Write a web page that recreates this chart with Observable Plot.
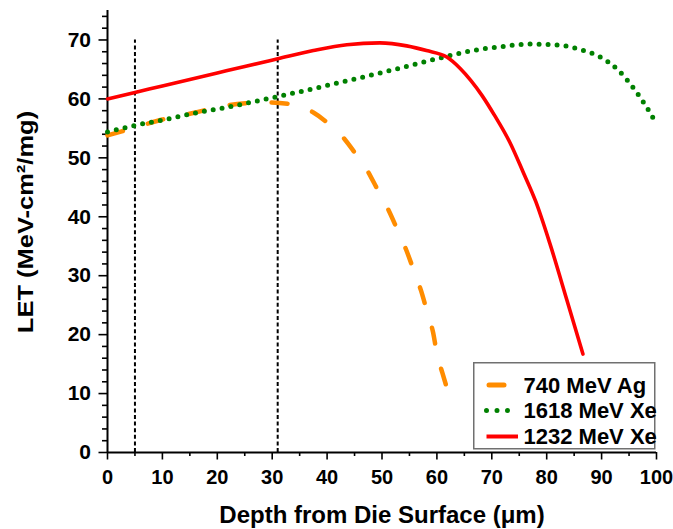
<!DOCTYPE html>
<html>
<head>
<meta charset="utf-8">
<script src="https://cdn.jsdelivr.net/npm/d3@7"></script>
<script src="https://cdn.jsdelivr.net/npm/@observablehq/plot@0.6"></script>
<style>
  html, body { margin: 0; padding: 0; background: #fff; }
  #wrap { position: relative; width: 673px; height: 529px; font-family: "Liberation Sans", Arial, sans-serif; }
  #wrap svg { display: block; }
  #legend { position: absolute; left: 473px; top: 362px; }
</style>
</head>
<body>
<div id="wrap"></div>
<script>
// ---- data ----
const seriesNames = ["740 MeV Ag", "1618 MeV Xe", "1232 MeV Xe"];
const seriesColors = ["#ff8c00", "#008000", "#ff0000"];

const agX = [0, 2.6, 6.2, 10, 15.6, 21.7, 26, 29.4, 33.9, 37.5, 40.5, 42.7, 45.1, 47.1, 49.2, 51, 52.9, 54.4, 55.9, 57.1, 58.3, 59.3, 60, 61, 62.3];
const agY = [53.8, 54.5, 55.5, 56.5, 57.6, 58.9, 59.3, 59.4, 59.0, 57.7, 55.6, 53.7, 50.8, 48.2, 44.6, 41.5, 37.6, 34.4, 30.6, 27.5, 23.6, 20.4, 16.8, 13.5, 9.5];

const xe1618X = [0, 5, 10, 16, 23, 29, 34, 41, 51, 59.5, 66.5, 72, 77, 82.5, 86, 89.6, 93, 96, 98.4, 99.6];
const xe1618Y = [54.4, 55.5, 56.4, 57.6, 58.8, 60.0, 61.0, 62.5, 64.7, 66.7, 68.2, 68.9, 69.3, 69.1, 68.4, 67.2, 64.9, 61.6, 58.3, 56.4];

const xe1232X = [0, 5, 10, 15, 20, 25, 31, 37.5, 43.6, 49.6, 54.5, 58.1, 61.8, 64.2, 66.2, 68.2, 70.5, 73.3, 75.7, 78, 80.6, 83.7, 86.6];
const xe1232Y = [60.0, 61.1, 62.2, 63.3, 64.4, 65.5, 66.8, 68.2, 69.2, 69.5, 69.0, 68.2, 67.1, 65.2, 63.1, 60.6, 57.2, 52.6, 47.6, 42.6, 35.4, 25.8, 16.7];

const markerLinesX = [5, 31];
const markerLineTop = 70;

const xMajorTicks = [0, 10, 20, 30, 40, 50, 60, 70, 80, 90, 100];
const xMinorTicks = [5, 15, 25, 35, 45, 55, 65, 75, 85, 95];
const yMajorTicks = [0, 10, 20, 30, 40, 50, 60, 70];
const yMinorTicks = [2, 4, 6, 8, 12, 14, 16, 18, 22, 24, 26, 28, 32, 34, 36, 38, 42, 44, 46, 48, 52, 54, 56, 58, 62, 64, 66, 68, 72, 74];

const xLabel = "Depth from Die Surface (μm)";
const yLabel = "LET (MeV-cm²/mg)";

// ---- build tables ----
const toRows = (xs, ys) => xs.map((x, i) => ({x, y: ys[i]}));
const agData = toRows(agX, agY);
const xe1618Data = toRows(xe1618X, xe1618Y);
const xe1232Data = toRows(xe1232X, xe1232Y);

const FONT = '"Liberation Sans", Arial, sans-serif';

const chart = Plot.plot({
  width: 673,
  height: 529,
  marginLeft: 107,
  marginRight: 17,
  marginTop: 10,
  marginBottom: 77,
  style: {fontFamily: FONT, fontWeight: "bold", color: "black", background: "white"},
  x: {domain: [0, 100], label: null},
  y: {domain: [0, 75], label: null},
  marks: [
    // minor ticks
    Plot.axisX(xMinorTicks, {tickSize: 4, tickFormat: () => "", label: null, strokeWidth: 1.6}),
    Plot.axisY(yMinorTicks, {tickSize: 5, tickFormat: () => "", label: null, strokeWidth: 1.6}),
    // major ticks
    Plot.axisX(xMajorTicks, {tickSize: 7.5, tickPadding: 10, fontSize: 20, fontWeight: "bold", label: null, strokeWidth: 1.6}),
    Plot.axisY(yMajorTicks, {tickSize: 8.5, tickPadding: 8, fontSize: 21, fontWeight: "bold", label: null, strokeWidth: 1.6}),
    // axis lines
    Plot.ruleY([0], {stroke: "black", strokeWidth: 2}),
    Plot.ruleX([0], {stroke: "black", strokeWidth: 2}),
    // vertical dashed markers
    Plot.ruleX(markerLinesX, {y1: 0, y2: markerLineTop, stroke: "black", strokeWidth: 2, strokeDasharray: "4,2.6"}),
    // series
    Plot.line(agData, {x: "x", y: "y", stroke: seriesColors[0], strokeWidth: 4.5, strokeDasharray: "16,26", strokeLinecap: "round", curve: "monotone-x"}),
    Plot.line(xe1618Data, {x: "x", y: "y", stroke: seriesColors[1], strokeWidth: 5, strokeDasharray: "0,9", strokeLinecap: "round", curve: "monotone-x"}),
    Plot.line(xe1232Data, {x: "x", y: "y", stroke: seriesColors[2], strokeWidth: 3.6, curve: "monotone-x"}),
    // axis titles
    Plot.text([yLabel], {frameAnchor: "left", fontSize: 25.5, fontWeight: "bold", fill: "black"}),
    Plot.text([xLabel], {frameAnchor: "bottom", textAnchor: "middle", lineAnchor: "middle", dy: 63, fontSize: 24, fontWeight: "bold", fill: "black"})
  ]
});

document.getElementById("wrap").appendChild(chart);

// place the y title: rotated, centred a little above the frame middle, condensed slightly across
const yRange = chart.scale("y").range;
const yMid = (yRange[0] + yRange[1]) / 2 - 9;
d3.select(chart).selectAll("text").each(function() {
  if ((this.textContent || "").startsWith("LET")) {
    const g = this.parentNode;
    g.removeAttribute("transform");
    g.setAttribute("text-anchor", "middle");
    this.removeAttribute("x");
    this.removeAttribute("y");
    this.setAttribute("text-anchor", "middle");
    this.setAttribute("dy", "0.35em");
    this.setAttribute("transform", `translate(25,${yMid}) rotate(-90) scale(1,0.88)`);
  }
});

// ---- legend (inside the plot area, lower right) ----
const lw = 182, lh = 87;
const legend = d3.create("svg")
  .attr("id", "legend")
  .attr("width", lw + 2)
  .attr("height", lh + 2)
  .style("font-family", FONT);
legend.append("rect")
  .attr("x", 0.75).attr("y", 0.75)
  .attr("width", lw - 1).attr("height", lh - 1)
  .attr("fill", "white").attr("stroke", "#707070").attr("stroke-width", 1.5);
const sampleStyles = [
  {x1: 16, x2: 31, w: 5, dash: null, cap: "round"},
  {x1: 13.5, x2: 45, w: 5, dash: "0,10.5", cap: "round"},
  {x1: 13.5, x2: 45, w: 4, dash: null, cap: "butt"}
];
const rowY = [23, 48.5, 74.5];
seriesNames.forEach((name, i) => {
  const s = sampleStyles[i];
  const ln = legend.append("line")
    .attr("x1", s.x1).attr("x2", s.x2)
    .attr("y1", rowY[i]).attr("y2", rowY[i])
    .attr("stroke", seriesColors[i])
    .attr("stroke-width", s.w)
    .attr("stroke-linecap", s.cap);
  if (s.dash) ln.attr("stroke-dasharray", s.dash);
  legend.append("text")
    .attr("x", 50.5)
    .attr("y", rowY[i] + 7.5)
    .attr("font-size", 22)
    .attr("font-weight", "bold")
    .attr("fill", "black")
    .text(name);
});
document.getElementById("wrap").appendChild(legend.node());
</script>
</body>
</html>
